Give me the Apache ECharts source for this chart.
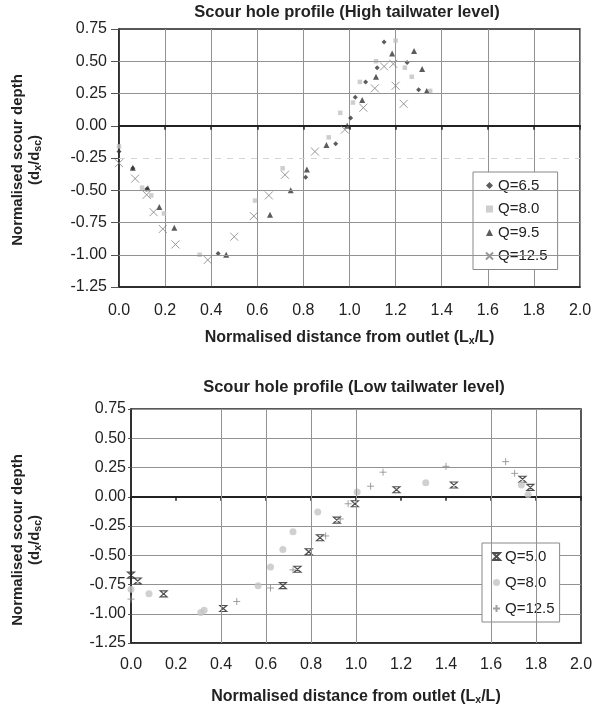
<!DOCTYPE html>
<html>
<head>
<meta charset="utf-8">
<title>Scour hole profile</title>
<script src="https://cdn.jsdelivr.net/npm/echarts@6/dist/echarts.min.js"></script>
<style>
  html, body { margin: 0; padding: 0; background: #fff; }
  #chart { width: 597px; height: 707px; }
</style>
</head>
<body>
<div id="chart"></div>
<script>
// points are [Lx/L, dx/dsc]
// high tailwater level
var highQ65 = [[0, -0.2], [0.06, -0.33], [0.12, -0.49], [0.43, -0.99], [0.81, -0.40], [0.94, -0.14], [1.005, 0.06], [1.025, 0.22], [1.07, 0.34], [1.12, 0.45], [1.15, 0.65], [1.25, 0.49], [1.30, 0.28]];
var highQ80 = [[0, -0.16], [0.10, -0.48], [0.14, -0.54], [0.195, -0.68], [0.35, -1.0], [0.59, -0.58], [0.71, -0.33], [0.91, -0.09], [0.96, 0.10], [1.015, 0.18], [1.045, 0.34], [1.115, 0.50], [1.20, 0.66], [1.24, 0.45], [1.27, 0.38], [1.35, 0.27]];
var highQ95 = [[0.06, -0.325], [0.125, -0.485], [0.175, -0.63], [0.24, -0.79], [0.465, -1.0], [0.655, -0.69], [0.745, -0.50], [0.815, -0.34], [0.90, -0.15], [0.99, 0.0], [1.055, 0.20], [1.115, 0.38], [1.185, 0.56], [1.28, 0.58], [1.315, 0.44], [1.335, 0.27]];
var highQ125 = [[0, -0.29], [0.07, -0.41], [0.12, -0.535], [0.15, -0.67], [0.19, -0.80], [0.245, -0.92], [0.385, -1.04], [0.50, -0.86], [0.585, -0.70], [0.65, -0.54], [0.72, -0.38], [0.85, -0.20], [0.98, -0.03], [1.06, 0.14], [1.11, 0.29], [1.15, 0.46], [1.19, 0.48], [1.20, 0.31], [1.235, 0.17]];

// low tailwater level
var lowQ50 = [[0, -0.67], [0.03, -0.72], [0.145, -0.83], [0.41, -0.955], [0.675, -0.76], [0.74, -0.62], [0.79, -0.47], [0.84, -0.35], [0.915, -0.20], [0.995, -0.06], [1.18, 0.06], [1.435, 0.10], [1.74, 0.15], [1.775, 0.08]];
var lowQ80 = [[0, -0.79], [0.08, -0.83], [0.31, -0.99], [0.325, -0.97], [0.565, -0.76], [0.62, -0.60], [0.675, -0.45], [0.72, -0.30], [0.83, -0.13], [1.005, 0.04], [1.31, 0.12], [1.735, 0.10], [1.765, 0.02]];
var lowQ125 = [[0, -0.875], [0.47, -0.895], [0.62, -0.78], [0.72, -0.625], [0.865, -0.335], [0.93, -0.19], [0.965, -0.06], [1.065, 0.09], [1.12, 0.21], [1.40, 0.26], [1.665, 0.30], [1.705, 0.20]];

var highNames = ['Q=6.5', 'Q=8.0', 'Q=9.5', 'Q=12.5'];
var lowNames = ['Q=5.0', 'Q=8.0', 'Q=12.5'];

// gridlines that are visible in the scan
var highGridY = [0.5, 0.25, -0.5, -0.75, -1.0];
var highFaintY = [-0.25];
var lowGridX = [0.4, 0.6, 0.8, 1.0, 1.6, 1.8];

var FONT = 'Liberation Sans, Arial, sans-serif';
var INK = '#222';
var GRID = '#929292';
var subRich = { s: { fontSize: 10.5, fontWeight: 'bold', fontFamily: FONT, padding: [7, 0, 0, 0] } };

var chart = echarts.init(document.getElementById('chart'));

function xAxes(grid, labelMargin, nameGap, showSplit) {
  return [{
    gridIndex: grid, type: 'value', min: 0, max: 2, interval: 0.2,
    position: 'bottom',
    axisLine: { onZero: false, lineStyle: { color: INK, width: 1.5 } },
    axisTick: { show: false },
    axisLabel: { margin: labelMargin, color: INK, fontSize: 16, fontFamily: FONT, formatter: function (v) { return v.toFixed(1); } },
    splitLine: { show: showSplit, lineStyle: { color: GRID, width: 1 } },
    name: 'Normalised distance from outlet (L{s|x}/L)',
    nameLocation: 'middle',
    nameGap: nameGap,
    nameTextStyle: { color: INK, fontSize: 16, fontWeight: 'bold', fontFamily: FONT, rich: subRich }
  }, {
    // the y = 0 line with its small ticks
    gridIndex: grid, type: 'value', min: 0, max: 2, interval: 0.2,
    position: 'top',
    axisLine: { onZero: true, lineStyle: { color: INK, width: 2 } },
    axisTick: { inside: true, length: 4, lineStyle: { color: INK, width: 1.5 } },
    axisLabel: { show: false },
    splitLine: { show: false }
  }];
}

function yAxis(grid, tickLen, margin, showSplit) {
  return {
    gridIndex: grid, type: 'value', min: -1.25, max: 0.75, interval: 0.25,
    axisLine: { lineStyle: { color: INK, width: 1.5 } },
    axisTick: { length: tickLen, lineStyle: { color: '#555' } },
    axisLabel: { margin: margin, color: INK, fontSize: 16, fontFamily: FONT, formatter: function (v) { return v.toFixed(2); } },
    splitLine: { show: showSplit, lineStyle: { color: GRID, width: 1 } }
  };
}

function legend(names, left, top, gap, textGap, padding) {
  return {
    data: names, orient: 'vertical', left: left, top: top,
    itemWidth: 7, itemHeight: 7, itemGap: gap, itemTextGap: textGap,
    padding: padding,
    backgroundColor: '#fff', borderColor: '#888', borderWidth: 1, borderRadius: 0,
    textStyle: { color: INK, fontSize: 15, fontFamily: FONT },
    formatter: function (n) { return n.split('|')[1]; },
    selectedMode: false
  };
}

function gridLines(values, axisKey, style) {
  return {
    silent: true, symbol: 'none', label: { show: false },
    lineStyle: style,
    data: values.map(function (v) { var o = {}; o[axisKey] = v; return o; })
  };
}

var crossPath = 'path://M0,0L10,10M10,0L0,10';
var plusPath = 'path://M5,0L5,10M0,5L10,5';
var glassPath = 'path://M0,0L10,0L0,10L10,10Z';

chart.setOption({
  animation: false,
  grid: [
    { left: 119, top: 29, width: 461, height: 258, show: true, borderColor: INK, borderWidth: 1.5, backgroundColor: '#fff' },
    { left: 131, top: 409, width: 450, height: 234, show: true, borderColor: INK, borderWidth: 1.5, backgroundColor: '#fff' }
  ],
  xAxis: xAxes(0, 16, 42, true).concat(xAxes(1, 14, 45, false)),
  yAxis: [yAxis(0, 8, 12, false), yAxis(1, 3, 5, true)],
  legend: [
    legend(highNames.map(function (n) { return 'high|' + n; }), 473, 172, 8.5, 3, [6, 10, 6, 12]),
    legend(lowNames.map(function (n) { return 'low|' + n; }), 482, 543, 11, 6, [6, 5, 6, 10])
  ],
  graphic: [
    { type: 'text', x: 347, y: 12, style: { text: 'Scour hole profile (High tailwater level)', align: 'center', verticalAlign: 'middle', fill: INK, font: 'bold 16.5px ' + FONT } },
    { type: 'text', x: 354, y: 387, style: { text: 'Scour hole profile (Low tailwater level)', align: 'center', verticalAlign: 'middle', fill: INK, font: 'bold 16.5px ' + FONT } },
    { type: 'text', x: 27, y: 160, rotation: Math.PI / 2, style: { text: 'Normalised scour depth\n(d{s|x}/d{s|sc})', align: 'center', verticalAlign: 'middle', fill: INK, font: 'bold 15px ' + FONT, rich: subRich } },
    { type: 'text', x: 27, y: 540, rotation: Math.PI / 2, style: { text: 'Normalised scour depth\n(d{s|x}/d{s|sc})', align: 'center', verticalAlign: 'middle', fill: INK, font: 'bold 15px ' + FONT, rich: subRich } }
  ],
  series: [
    { name: 'high|Q=6.5', type: 'scatter', xAxisIndex: 0, yAxisIndex: 0, data: highQ65, symbol: 'diamond', symbolSize: 5, itemStyle: { color: '#333' },
      markLine: gridLines(highGridY, 'yAxis', { color: GRID, width: 1, type: 'solid' }) },
    { name: 'high|Q=8.0', type: 'scatter', xAxisIndex: 0, yAxisIndex: 0, data: highQ80, symbol: 'rect', symbolSize: 4.5, itemStyle: { color: '#c2c2c2' },
      markLine: gridLines(highFaintY, 'yAxis', { color: '#d4d4d4', width: 1, type: [6, 6] }) },
    { name: 'high|Q=9.5', type: 'scatter', xAxisIndex: 0, yAxisIndex: 0, data: highQ95, symbol: 'triangle', symbolSize: 6, itemStyle: { color: '#333' } },
    { name: 'high|Q=12.5', type: 'scatter', xAxisIndex: 0, yAxisIndex: 0, data: highQ125, symbol: crossPath, symbolSize: 8, itemStyle: { color: 'transparent', borderColor: '#808080', borderWidth: 1 } },

    { name: 'low|Q=5.0', type: 'scatter', xAxisIndex: 2, yAxisIndex: 1, data: lowQ50, symbol: glassPath, symbolSize: [7, 6], itemStyle: { color: 'transparent', borderColor: '#222', borderWidth: 1.2 },
      markLine: gridLines(lowGridX, 'xAxis', { color: GRID, width: 1, type: 'solid' }) },
    { name: 'low|Q=8.0', type: 'scatter', xAxisIndex: 2, yAxisIndex: 1, data: lowQ80, symbol: 'circle', symbolSize: 7, itemStyle: { color: '#c4c4c4' } },
    { name: 'low|Q=12.5', type: 'scatter', xAxisIndex: 2, yAxisIndex: 1, data: lowQ125, symbol: plusPath, symbolSize: 7, itemStyle: { color: 'transparent', borderColor: '#8a8a8a', borderWidth: 1 } }
  ]
});
</script>
</body>
</html>
